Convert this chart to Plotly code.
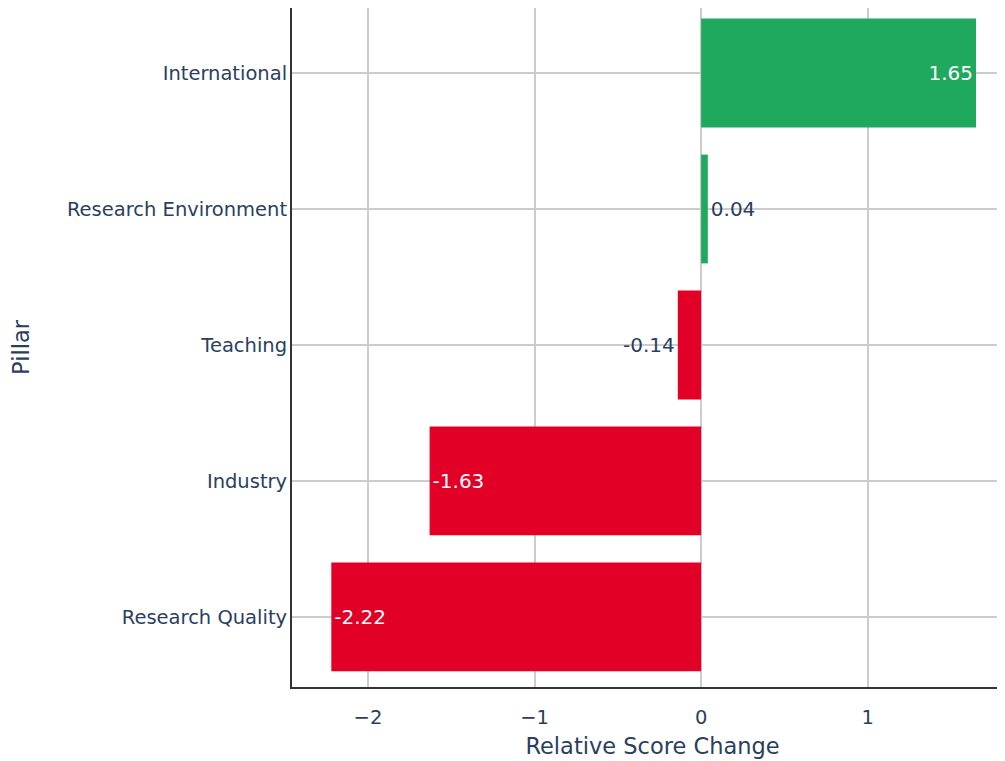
import plotly.graph_objects as go

pillars = ["Research Quality", "Industry", "Teaching", "Research Environment", "International"]
changes = [-2.22, -1.63, -0.14, 0.04, 1.65]
colors = ["#e30026" if v < 0 else "#1ea95e" for v in changes]
labels = [f"{v:.2f}" for v in changes]

fig = go.Figure(go.Bar(
    x=changes, y=pillars, orientation="h",
    marker=dict(color=colors, line=dict(width=0)),
    text=labels, textposition="auto",
    insidetextfont=dict(color="white", size=20),
    outsidetextfont=dict(color="#2a3f5f", size=20),
    width=0.8,
))

fig.update_layout(
    width=1005, height=761,
    template="plotly_white",
    paper_bgcolor="white", plot_bgcolor="white",
    margin=dict(l=284, r=0, t=0, b=82),
    font=dict(family="DejaVu Sans, Verdana, sans-serif", size=19.5, color="#2a3f5f"),
    showlegend=False,
    xaxis=dict(
        title=dict(text="Relative Score Change", font=dict(size=22.5), standoff=10),
        range=[-2.456, 1.872], tickvals=[-2, -1, 0, 1],
        showgrid=True, gridcolor="#cccccc", gridwidth=1.5,
        zeroline=False, showline=True, linecolor="#333333", linewidth=2,
        ticks="", ticklen=0, ticklabelstandoff=12,
    ),
    yaxis=dict(
        title=dict(text="Pillar", font=dict(size=22.5), standoff=35),
        range=[-0.515, 4.478],
        showgrid=True, gridcolor="#cccccc", gridwidth=1.5,
        showline=True, linecolor="#333333", linewidth=2,
        ticks="", ticklabelstandoff=-1,
    ),
)

fig.write_html("out.html")
